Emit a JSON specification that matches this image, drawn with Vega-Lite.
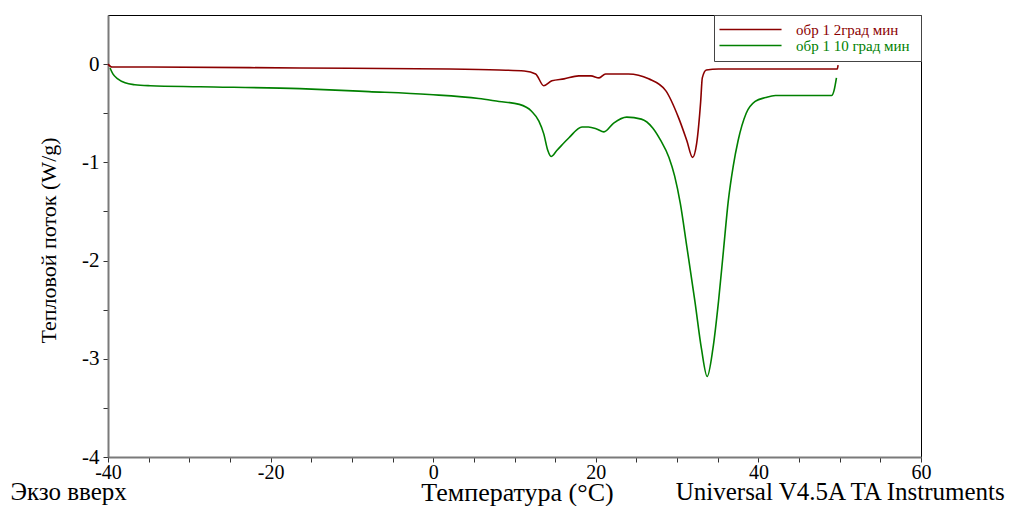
{
  "$schema": "https://vega.github.io/schema/vega-lite/v6.json",
  "autosize": "none",
  "width": 813,
  "height": 442,
  "padding": {"left": 108, "top": 15, "right": 92, "bottom": 49},
  "background": "white",
  "config": {
    "view": {"stroke": "black", "strokeWidth": 1},
    "font": "Liberation Serif",
    "axis": {
      "domainColor": "#7a7a7a",
      "domainWidth": 2,
      "tickColor": "#333",
      "tickSize": 5,
      "grid": false,
      "labelFont": "Liberation Serif",
      "labelFontSize": 21,
      "labelColor": "black",
      "titleFont": "Liberation Serif",
      "titleFontWeight": "normal",
      "titleColor": "black"
    },
    "legend": {
      "labelFont": "Liberation Serif",
      "labelFontSize": 14
    }
  },
  "datasets": {
    "curves": [
      {"T": -40.0, "q": 0.0, "s": "обр 1 2град  мин"},
      {"T": -39.5, "q": -0.03, "s": "обр 1 2град  мин"},
      {"T": -34.8, "q": -0.03, "s": "обр 1 2град  мин"},
      {"T": -16.4, "q": -0.04, "s": "обр 1 2град  мин"},
      {"T": 2.0, "q": -0.05, "s": "обр 1 2град  мин"},
      {"T": 8.1, "q": -0.06, "s": "обр 1 2град  мин"},
      {"T": 11.2, "q": -0.07, "s": "обр 1 2град  мин"},
      {"T": 12.6, "q": -0.1, "s": "обр 1 2град  мин"},
      {"T": 13.6, "q": -0.22, "s": "обр 1 2град  мин"},
      {"T": 14.6, "q": -0.17, "s": "обр 1 2град  мин"},
      {"T": 16.1, "q": -0.15, "s": "обр 1 2град  мин"},
      {"T": 17.9, "q": -0.12, "s": "обр 1 2град  мин"},
      {"T": 19.4, "q": -0.12, "s": "обр 1 2град  мин"},
      {"T": 20.4, "q": -0.14, "s": "обр 1 2град  мин"},
      {"T": 21.2, "q": -0.1, "s": "обр 1 2град  мин"},
      {"T": 24.0, "q": -0.1, "s": "обр 1 2град  мин"},
      {"T": 26.5, "q": -0.15, "s": "обр 1 2град  мин"},
      {"T": 28.6, "q": -0.27, "s": "обр 1 2град  мин"},
      {"T": 30.2, "q": -0.55, "s": "обр 1 2град  мин"},
      {"T": 31.2, "q": -0.78, "s": "обр 1 2град  мин"},
      {"T": 31.9, "q": -0.95, "s": "обр 1 2град  мин"},
      {"T": 32.4, "q": -0.81, "s": "обр 1 2град  мин"},
      {"T": 32.9, "q": -0.38, "s": "обр 1 2град  мин"},
      {"T": 33.1, "q": -0.14, "s": "обр 1 2град  мин"},
      {"T": 33.6, "q": -0.06, "s": "обр 1 2град  мин"},
      {"T": 35.1, "q": -0.05, "s": "обр 1 2град  мин"},
      {"T": 49.7, "q": -0.05, "s": "обр 1 2град  мин"},
      {"T": 49.8, "q": -0.01, "s": "обр 1 2град  мин"},
      {"T": -39.75, "q": -0.04, "s": "обр 1 10 град  мин"},
      {"T": -39.4, "q": -0.1, "s": "обр 1 10 град  мин"},
      {"T": -38.8, "q": -0.15, "s": "обр 1 10 град  мин"},
      {"T": -37.9, "q": -0.19, "s": "обр 1 10 град  мин"},
      {"T": -36.7, "q": -0.21, "s": "обр 1 10 град  мин"},
      {"T": -34.8, "q": -0.22, "s": "обр 1 10 град  мин"},
      {"T": -28.7, "q": -0.23, "s": "обр 1 10 град  мин"},
      {"T": -16.4, "q": -0.25, "s": "обр 1 10 град  мин"},
      {"T": -7.9, "q": -0.28, "s": "обр 1 10 град  мин"},
      {"T": -0.5, "q": -0.31, "s": "обр 1 10 град  мин"},
      {"T": 5.6, "q": -0.35, "s": "обр 1 10 град  мин"},
      {"T": 8.1, "q": -0.38, "s": "обр 1 10 град  мин"},
      {"T": 10.6, "q": -0.41, "s": "обр 1 10 град  мин"},
      {"T": 12.1, "q": -0.48, "s": "обр 1 10 град  мин"},
      {"T": 13.0, "q": -0.58, "s": "обр 1 10 град  мин"},
      {"T": 13.6, "q": -0.71, "s": "обр 1 10 град  мин"},
      {"T": 14.1, "q": -0.88, "s": "обр 1 10 град  мин"},
      {"T": 14.5, "q": -0.94, "s": "обр 1 10 град  мин"},
      {"T": 15.2, "q": -0.88, "s": "обр 1 10 град  мин"},
      {"T": 16.7, "q": -0.75, "s": "обр 1 10 град  мин"},
      {"T": 18.3, "q": -0.64, "s": "обр 1 10 град  мин"},
      {"T": 19.1, "q": -0.64, "s": "обр 1 10 град  мин"},
      {"T": 20.1, "q": -0.66, "s": "обр 1 10 град  мин"},
      {"T": 21.0, "q": -0.69, "s": "обр 1 10 град  мин"},
      {"T": 22.2, "q": -0.6, "s": "обр 1 10 град  мин"},
      {"T": 23.8, "q": -0.54, "s": "обр 1 10 град  мин"},
      {"T": 25.6, "q": -0.56, "s": "обр 1 10 град  мин"},
      {"T": 27.0, "q": -0.65, "s": "обр 1 10 град  мин"},
      {"T": 28.0, "q": -0.78, "s": "обр 1 10 град  мин"},
      {"T": 29.0, "q": -0.95, "s": "обр 1 10 град  мин"},
      {"T": 29.7, "q": -1.14, "s": "обр 1 10 град  мин"},
      {"T": 30.4, "q": -1.42, "s": "обр 1 10 град  мин"},
      {"T": 31.2, "q": -1.86, "s": "обр 1 10 град  мин"},
      {"T": 32.2, "q": -2.42, "s": "обр 1 10 град  мин"},
      {"T": 33.0, "q": -2.9, "s": "обр 1 10 град  мин"},
      {"T": 33.7, "q": -3.18, "s": "обр 1 10 град  мин"},
      {"T": 34.4, "q": -2.9, "s": "обр 1 10 град  мин"},
      {"T": 35.1, "q": -2.41, "s": "обр 1 10 град  мин"},
      {"T": 35.7, "q": -1.9, "s": "обр 1 10 град  мин"},
      {"T": 36.3, "q": -1.39, "s": "обр 1 10 град  мин"},
      {"T": 36.9, "q": -1.04, "s": "обр 1 10 град  мин"},
      {"T": 37.5, "q": -0.78, "s": "обр 1 10 град  мин"},
      {"T": 38.5, "q": -0.5, "s": "обр 1 10 град  мин"},
      {"T": 39.6, "q": -0.38, "s": "обр 1 10 град  мин"},
      {"T": 40.9, "q": -0.34, "s": "обр 1 10 град  мин"},
      {"T": 42.1, "q": -0.32, "s": "обр 1 10 град  мин"},
      {"T": 49.0, "q": -0.32, "s": "обр 1 10 град  мин"},
      {"T": 49.3, "q": -0.27, "s": "обр 1 10 град  мин"},
      {"T": 49.6, "q": -0.14, "s": "обр 1 10 град  мин"}
    ],
    "notesLeft": [{"T": -52.0, "q": -4.438, "text": "Экзо вверх"}],
    "notesRight": [{"T": 70.3, "q": -4.438, "text": "Universal V4.5A TA Instruments"}]
  },
  "layer": [
    {
      "data": {"name": "curves"},
      "mark": {"type": "line", "interpolate": "monotone", "strokeWidth": 1.6},
      "encoding": {
        "x": {
          "field": "T", "type": "quantitative",
          "scale": {"domain": [-40, 60], "nice": false, "zero": false},
          "axis": {
            "values": [-40,-35,-30,-25,-20,-15,-10,-5,0,5,10,15,20,25,30,35,40,45,50,55,60],
            "labelExpr": "datum.value % 20 === 0 ? '' + datum.value : ''",
            "labelPadding": 0,
            "labelFontSize": 20,
            "labelBaseline": "top",
            "labelFlush": false,
            "labelOverlap": false,
            "title": "Температура (°C)",
            "titleFontSize": 26,
            "titleX": 409,
            "titleY": 43,
            "titleBaseline": "alphabetic",
            "titleAnchor": "middle"
          }
        },
        "y": {
          "field": "q", "type": "quantitative",
          "scale": {"domain": [-4, 0.5], "nice": false, "zero": false},
          "axis": {
            "values": [-4,-3.75,-3.5,-3.25,-3,-2.75,-2.5,-2.25,-2,-1.75,-1.5,-1.25,-1,-0.75,-0.5,-0.25,0,0.25],
            "labelExpr": "datum.value % 1 === 0 ? '' + datum.value : ''",
            "labelPadding": 4,
            "labelFlush": false,
            "labelOverlap": false,
            "title": "Тепловой поток (W/g)",
            "titleFontSize": 22,
            "titleX": -48,
            "titleY": 225,
            "titleAnchor": "middle"
          }
        },
        "color": {
          "field": "s", "type": "nominal",
          "scale": {"domain": ["обр 1 2град  мин", "обр 1 10 град  мин"], "range": ["#8B0000", "#008000"]},
          "legend": {
            "title": null,
            "orient": "top-right",
            "offset": 0,
            "fillColor": "white",
            "strokeColor": "#444",
            "padding": 7,
            "symbolType": "M-6,0H6",
            "symbolSize": 107,
            "symbolStrokeWidth": 1.3,
            "symbolOffset": 22,
            "labelOffset": 38,
            "rowPadding": 0,
            "labelFontSize": 15,
            "encode": {
              "labels": {"update": {"fill": {"scale": "color", "field": "value"}}}
            }
          }
        }
      }
    },
    {
      "data": {"name": "notesLeft"},
      "mark": {"type": "text", "align": "left", "baseline": "alphabetic", "fontSize": 25, "font": "Liberation Serif", "color": "black"},
      "encoding": {
        "x": {"field": "T", "type": "quantitative"},
        "y": {"field": "q", "type": "quantitative"},
        "text": {"field": "text"}
      }
    },
    {
      "data": {"name": "notesRight"},
      "mark": {"type": "text", "align": "right", "baseline": "alphabetic", "fontSize": 25, "font": "Liberation Serif", "color": "black"},
      "encoding": {
        "x": {"field": "T", "type": "quantitative"},
        "y": {"field": "q", "type": "quantitative"},
        "text": {"field": "text"}
      }
    }
  ]
}
